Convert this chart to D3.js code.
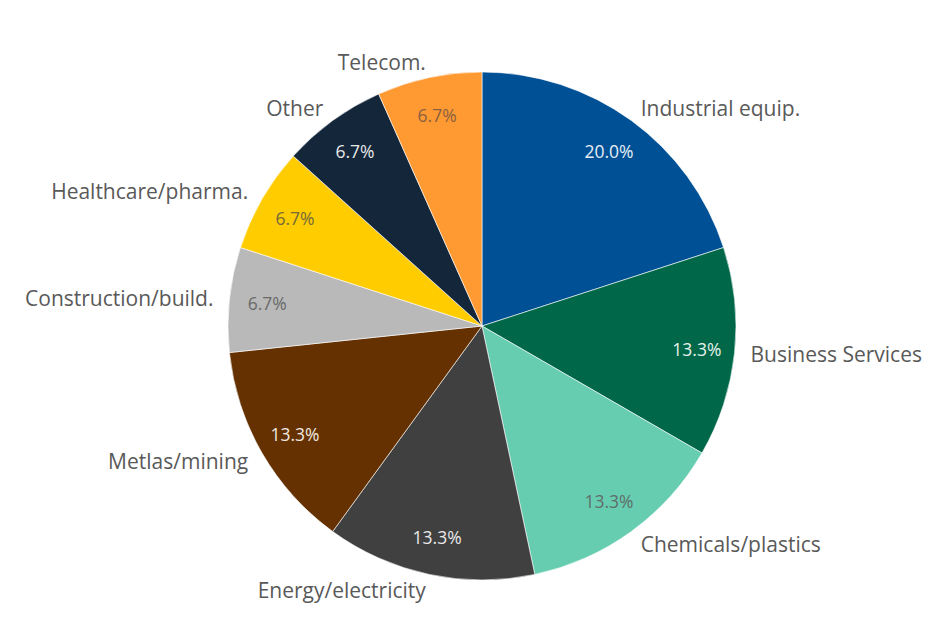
<!DOCTYPE html>
<html>
<head>
<meta charset="utf-8">
<script src="https://cdn.jsdelivr.net/npm/d3@7"></script>
<style>
  html, body { margin: 0; padding: 0; background: #fff; }
  svg { display: block; }
</style>
</head>
<body>
<svg id="chart" width="944" height="637"></svg>
<script>
// Sector shares (counts out of 15), clockwise from 12 o'clock
const categories = [
  "Industrial equip.", "Business Services", "Chemicals/plastics",
  "Energy/electricity", "Metlas/mining", "Construction/build.",
  "Healthcare/pharma.", "Other", "Telecom."
];
const values = [3, 2, 2, 2, 2, 1, 1, 1, 1];
const colors = [
  "#005095", "#006848", "#66cdb0", "#404040", "#653100",
  "#b9b9b9", "#ffcc00", "#14263a", "#ff9a33"
];
const valueLabelColors = [
  "#e6eef5", "#e6f0ea", "#5f6f69", "#e8e8e8", "#f0e8e0",
  "#6a6a6a", "#756a3a", "#e8e8e8", "#8a6040"
];

const svg = d3.select("#chart");
const cx = 482, cy = 326, radius = 254;
const g = svg.append("g").attr("transform", `translate(${cx},${cy})`);

const total = d3.sum(values);
const data = categories.map((c, i) => ({ name: c, value: values[i], color: colors[i], lc: valueLabelColors[i] }));

const pie = d3.pie().value(d => d.value).sort(null);
const arcs = pie(data);

const arc = d3.arc().innerRadius(0).outerRadius(radius);
const inner = d3.arc().innerRadius(216).outerRadius(216);
const outer = d3.arc().innerRadius(270).outerRadius(270);

g.selectAll("path.slice")
  .data(arcs)
  .join("path")
  .attr("class", "slice")
  .attr("d", arc)
  .attr("fill", d => d.data.color)
  .attr("stroke", "#ffffff")
  .attr("stroke-width", 0.6);

const fmt = d3.format(".1%");

g.selectAll("text.value")
  .data(arcs)
  .join("text")
  .attr("class", "value")
  .attr("transform", d => `translate(${inner.centroid(d)})`)
  .attr("text-anchor", "middle")
  .attr("dominant-baseline", "central")
  .attr("font-family", "'Open Sans', sans-serif")
  .attr("font-size", 17.5)
  .attr("fill", d => d.data.lc)
  .text(d => fmt(d.data.value / total));

g.selectAll("text.name")
  .data(arcs)
  .join("text")
  .attr("class", "name")
  .attr("transform", d => `translate(${outer.centroid(d)})`)
  .attr("text-anchor", d => ((d.startAngle + d.endAngle) / 2 < Math.PI ? "start" : "end"))
  .attr("dominant-baseline", "central")
  .attr("font-family", "'Open Sans', sans-serif")
  .attr("font-size", 21)
  .attr("fill", "#595959")
  .text(d => d.data.name);
</script>
</body>
</html>
